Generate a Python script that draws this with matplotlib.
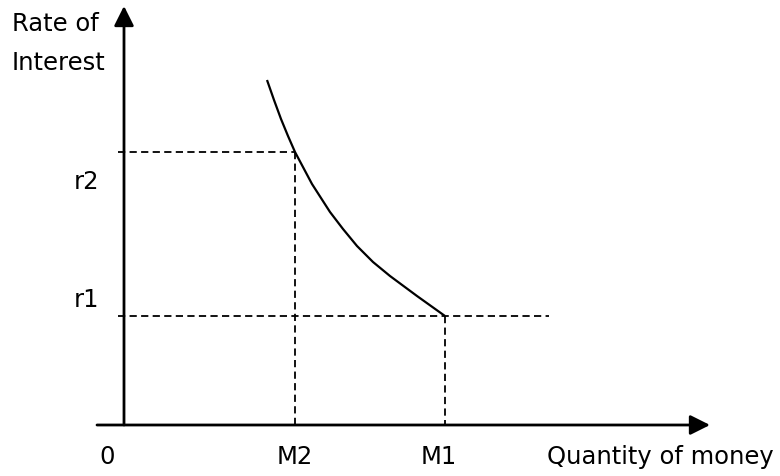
import matplotlib.pyplot as plt

# liquidity preference curve (quantity of money, rate of interest)
curve_x = [143, 150, 157, 164, 171, 188, 206, 219, 233, 249, 266, 293, 321]
curve_y = [345, 325, 306, 289, 273, 241, 213, 196, 179, 163, 149, 129, 109]

M2, M1 = 171, 321
r2, r1 = 273, 109

fig = plt.figure(figsize=(7.8, 4.77), dpi=100)
ax = fig.add_axes([0, 0, 1, 1])
ax.set_xlim(-124, 656)
ax.set_ylim(-51, 426)
ax.axis('off')

arrow = dict(arrowstyle='-|>,head_length=0.6,head_width=0.3', lw=2, color='black',
             mutation_scale=20, shrinkA=0, shrinkB=0)
ax.annotate('', xy=(586, 0), xytext=(-27, 0), arrowprops=arrow)
ax.annotate('', xy=(0, 419), xytext=(0, 0), arrowprops=arrow)

# curve
ax.plot(curve_x, curve_y, color='black', lw=1.6, solid_capstyle='butt',
        solid_joinstyle='round')

# dashed guides
dash = dict(color='black', lw=1.3, linestyle=(0, (4, 2.4)))
ax.plot([-6, M2], [r2, r2], **dash)
ax.plot([-6, 425], [r1, r1], **dash)
ax.plot([M2, M2], [r2, 0], **dash)
ax.plot([M1, M1], [r1, 0], **dash)

fs = 17.5
ax.text(-112, 402, 'Rate of', fontsize=fs, va='center', ha='left')
ax.text(-112, 363, 'Interest', fontsize=fs, va='center', ha='left')
ax.text(-50, 244, 'r2', fontsize=fs, va='center', ha='left')
ax.text(-50, 126, 'r1', fontsize=fs, va='center', ha='left')
ax.text(-17, -31, '0', fontsize=fs, va='center', ha='center')
ax.text(M2, -31, 'M2', fontsize=fs, va='center', ha='center')
ax.text(M1 - 6, -31, 'M1', fontsize=fs, va='center', ha='center')
ax.text(423, -31, 'Quantity of money', fontsize=fs, va='center', ha='left')

fig.savefig('out.png', dpi=100)
